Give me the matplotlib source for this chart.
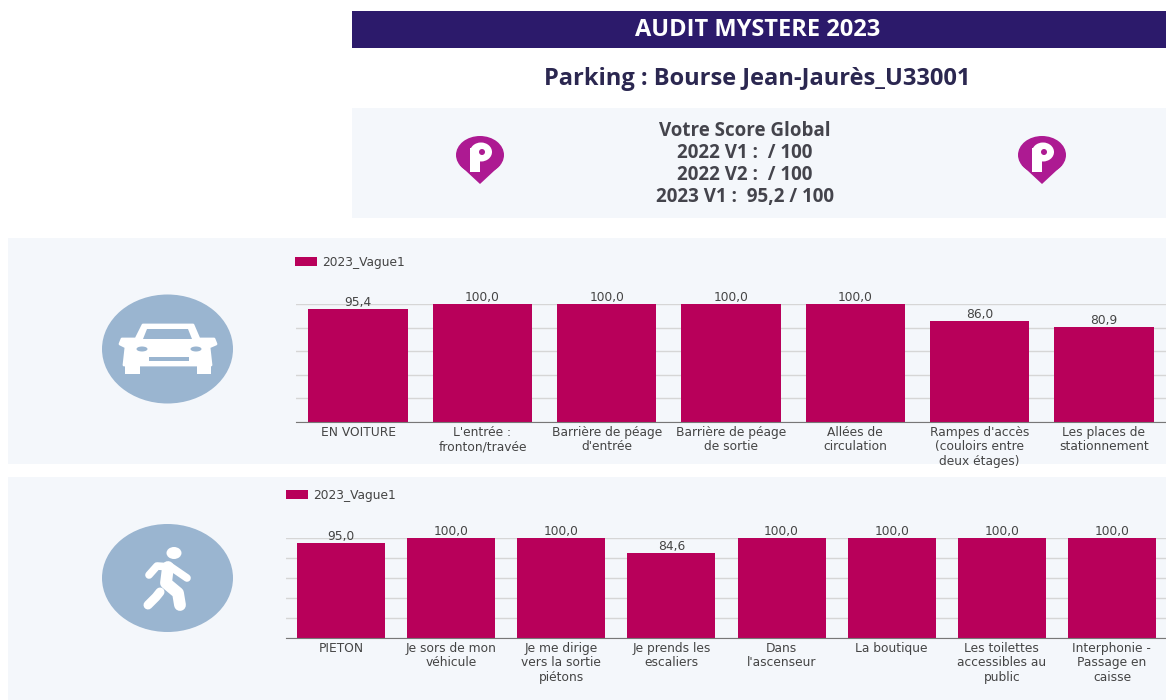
import matplotlib
matplotlib.use("Agg")
import matplotlib.pyplot as plt
from matplotlib.patches import Rectangle, Ellipse, Polygon

W, H = 1166, 700

# chart data
series_name = "2023_Vague1"
car_labels = ["EN VOITURE", "L'entrée :\nfronton/travée", "Barrière de péage\nd'entrée",
              "Barrière de péage\nde sortie", "Allées de\ncirculation",
              "Rampes d'accès\n(couloirs entre\ndeux étages)", "Les places de\nstationnement"]
car_values = [95.4, 100.0, 100.0, 100.0, 100.0, 86.0, 80.9]
walk_labels = ["PIETON", "Je sors de mon\nvéhicule", "Je me dirige\nvers la sortie\npiétons",
               "Je prends les\nescaliers", "Dans\nl'ascenseur", "La boutique",
               "Les toilettes\naccessibles au\npublic", "Interphonie -\nPassage en\ncaisse"]
walk_values = [95.0, 100.0, 100.0, 84.6, 100.0, 100.0, 100.0, 100.0]
score_lines = ["Votre Score Global", "2022 V1 :  / 100", "2022 V2 :  / 100", "2023 V1 :  95,2 / 100"]

PANEL = "#f4f7fb"
BAR = "#b8005a"
ICON = "#9ab5d0"
PIN = "#ad1a92"
NAVY = "#2c1a6b"
TEXT = "#44444c"

fig = plt.figure(figsize=(W / 100, H / 100), dpi=100, facecolor="white")

# background layer, in picture pixels
bg = fig.add_axes([0, 0, 1, 1], zorder=0)
bg.set_xlim(0, W)
bg.set_ylim(H, 0)
bg.axis("off")


def box(x0, y0, x1, y1, color):
    bg.add_patch(Rectangle((x0, y0), x1 - x0, y1 - y0, fc=color, ec="none"))


box(352, 11, W, 48, NAVY)
box(352, 108, W, 218, PANEL)
box(8, 238, W, 464, PANEL)
box(8, 477, W, H, PANEL)

bg.text(758, 30, "AUDIT MYSTERE 2023", color="white", fontsize=17, fontweight="bold",
        family="Open Sans", ha="center", va="center")
bg.text(757, 79, "Parking : Bourse Jean-Jaurès_U33001", color="#2b2750", fontsize=17,
        fontweight="bold", family="Open Sans", ha="center", va="center")
for y, line in zip([131, 153, 175, 197], score_lines):
    bg.text(745, y, line, color=TEXT, fontsize=13.5, fontweight="bold", family="Open Sans",
            ha="center", va="center")


def pin(cx):
    bg.add_patch(Ellipse((cx, 155), 48, 38, fc=PIN, ec="none"))
    bg.add_patch(Polygon([(cx - 20.4, 165), (cx + 20.4, 165), (cx, 184)], fc=PIN, ec="none"))
    bg.add_patch(Rectangle((cx - 10, 148), 10, 24, fc="white", ec="none"))
    bg.add_patch(Ellipse((cx + 1, 152), 22, 19, fc="white", ec="none"))
    bg.add_patch(Ellipse((cx + 2, 152), 6, 6, fc=PIN, ec="none"))


pin(480)
pin(1042)

# car icon
bg.add_patch(Ellipse((167.5, 349), 131, 109, fc=ICON, ec="none"))
bg.add_patch(Polygon([(143, 325), (193, 325), (199, 339), (214, 339), (216, 344), (209, 347),
                      (211, 365), (124, 365), (126, 347), (120, 344), (122, 339), (136, 339)],
                     fc="white", ec="white", lw=2, joinstyle="round"))
bg.add_patch(Polygon([(147, 329), (188, 329), (192, 339), (143, 339)], fc=ICON, ec="none"))
box(125, 364, 140, 374, "white")
box(197, 364, 211, 374, "white")
bg.add_patch(Ellipse((142, 349), 11, 5, fc=ICON, ec="none"))
bg.add_patch(Ellipse((196, 349), 11, 5, fc=ICON, ec="none"))
box(149, 357, 189, 361, ICON)

# walker icon
bg.add_patch(Ellipse((167.5, 578), 131, 108, fc=ICON, ec="none"))
bg.add_patch(Ellipse((174, 553), 15, 12, fc="white", ec="none"))
bg.plot([149, 157, 171, 187], [575, 566, 567, 578], color="white", lw=5.5, solid_capstyle="round")
bg.plot([168, 166, 178, 180], [567, 583, 593, 605], color="white", lw=8.5, solid_capstyle="round")
bg.plot([160, 156, 148], [592, 597, 605], color="white", lw=6.5, solid_capstyle="round")


def bar_panel(labels, values, x0, x1, y_top, y_base, leg_x, leg_y):
    # one chart placed by its pixel box
    ax = fig.add_axes([x0 / W, 1 - y_base / H, (x1 - x0) / W, (y_base - y_top) / H], zorder=2)
    ax.patch.set_alpha(0)
    ax.set_xlim(-0.5, len(values) - 0.5)
    ax.set_ylim(0, 100)
    ax.set_yticks(range(0, 101, 20))
    ax.grid(axis="y", color="#d6d6d6", lw=1)
    ax.set_axisbelow(True)
    bars = ax.bar(range(len(values)), values, width=0.8, color=BAR, label=series_name, clip_on=False)
    ax.bar_label(bars, labels=[f"{v:.1f}".replace(".", ",") for v in values], padding=0,
                 fontsize=8.8, color="#444444")
    ax.set_xticks(range(len(values)))
    ax.set_xticklabels(labels, fontsize=8.8, color="#444444", linespacing=1.12)
    ax.tick_params(axis="both", length=0, pad=3)
    ax.tick_params(axis="y", labelleft=False)
    for side in ["top", "left", "right"]:
        ax.spines[side].set_visible(False)
    ax.spines["bottom"].set_color("#777777")
    ax.legend(loc="lower left", bbox_to_anchor=(leg_x / W, 1 - leg_y / H), bbox_transform=fig.transFigure,
              frameon=False, fontsize=8.8, handlelength=1.8, handleheight=0.7, handletextpad=0.4,
              borderpad=0, borderaxespad=0, labelcolor="#444444")
    return ax


bar_panel(car_labels, car_values, 296, 1166, 304, 422, 295, 269)
bar_panel(walk_labels, walk_values, 286, 1167, 538, 638, 286, 502)

fig.savefig("out.png", dpi=100)
